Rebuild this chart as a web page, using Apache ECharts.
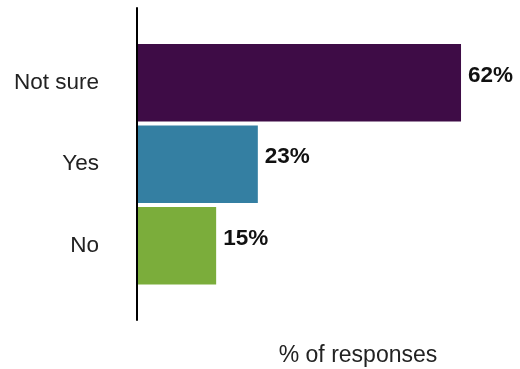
<!DOCTYPE html>
<html>
<head>
<meta charset="utf-8">
<script src="https://cdn.jsdelivr.net/npm/echarts@6/dist/echarts.min.js"></script>
<style>html,body{margin:0;padding:0;background:#fff}#c{width:520px;height:369px}</style>
</head>
<body>
<div id="c"></div>
<script>
var categories = ['Not sure', 'Yes', 'No'];
var values = [62, 23, 15];
var barColors = ['#3e0c46', '#347fa2', '#7bad3b'];
var axisTitle = '% of responses';

var chart = echarts.init(document.getElementById('c'), null, {renderer: 'canvas'});
var font = '"Liberation Sans", Arial, Helvetica, sans-serif';
chart.setOption({
  animation: false,
  backgroundColor: '#fff',
  title: {
    text: axisTitle,
    left: 353,
    top: 339,
    textAlign: 'center',
    textStyle: {fontFamily: font, fontSize: 23, fontWeight: 'normal', color: '#222'}
  },
  grid: [
    {left: 138, top: 42, height: 244.5, width: 364.7, containLabel: false},
    {left: 137, top: 8, height: 312, width: 364.7, containLabel: false}
  ],
  xAxis: [
    {gridIndex: 0, type: 'value', min: 0, max: 70, show: false},
    {gridIndex: 1, type: 'value', min: 0, max: 70, show: false}
  ],
  yAxis: [
    {
      gridIndex: 0, type: 'category', data: categories, inverse: true,
      axisLine: {show: false}, axisTick: {show: false}, splitLine: {show: false},
      axisLabel: {margin: 39, padding: [5, 0, 0, 0], fontFamily: font, fontSize: 22.5, color: '#222'}
    },
    {
      gridIndex: 1, type: 'category', data: [''],
      axisLine: {show: true, lineStyle: {color: '#000', width: 2}},
      axisTick: {show: false}, axisLabel: {show: false}, splitLine: {show: false}
    }
  ],
  series: [{
    type: 'bar',
    xAxisIndex: 0, yAxisIndex: 0,
    barCategoryGap: '5%',
    data: values.map(function (v, i) { return {value: v, itemStyle: {color: barColors[i]}}; }),
    label: {
      show: true, position: 'right', distance: 7, offset: [0, -7],
      formatter: '{c}%',
      fontFamily: font, fontSize: 22.5, fontWeight: 'bold', color: '#111'
    }
  }]
});
</script>
</body>
</html>
